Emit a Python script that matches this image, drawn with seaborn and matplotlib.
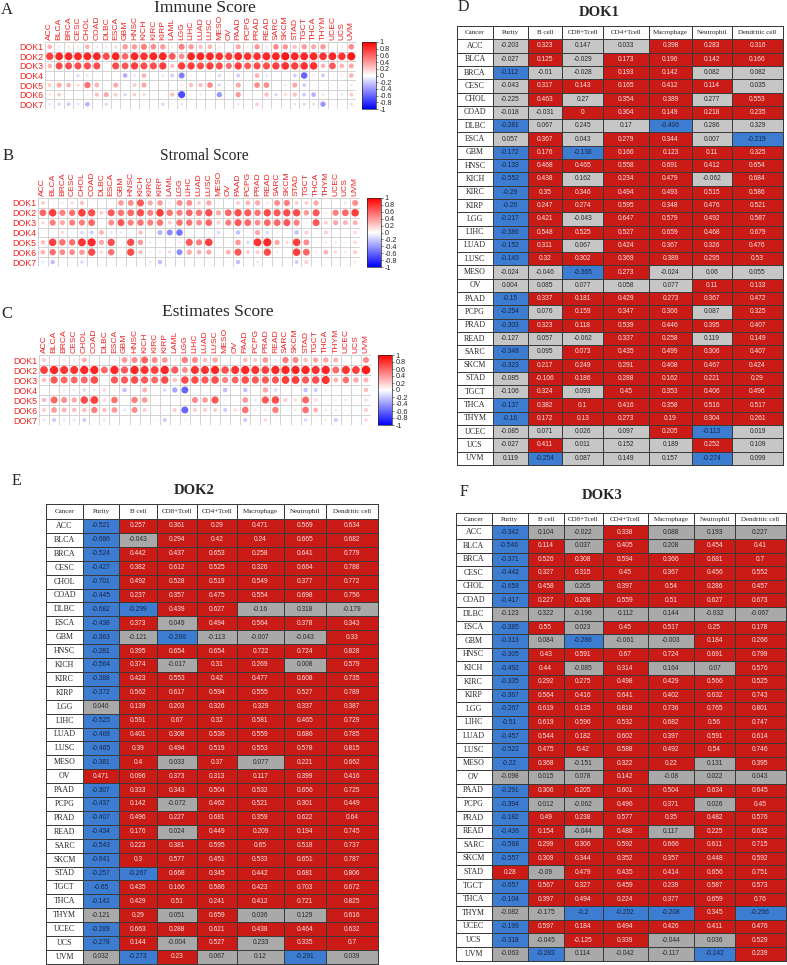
import numpy as np
import pandas as pd
import matplotlib
matplotlib.use('Agg')
import matplotlib.pyplot as plt
from matplotlib.colors import LinearSegmentedColormap, ListedColormap, Normalize
import matplotlib.cm as cm
import seaborn as sns

sns.set_style('white')
plt.rcParams['font.family'] = ['Liberation Sans', 'DejaVu Sans']

# ---------------- data ----------------
CANCERS = ['ACC', 'BLCA', 'BRCA', 'CESC', 'CHOL', 'COAD', 'DLBC', 'ESCA', 'GBM', 'HNSC',
           'KICH', 'KIRC', 'KIRP', 'LAML', 'LGG', 'LIHC', 'LUAD', 'LUSC', 'MESO', 'OV',
           'PAAD', 'PCPG', 'PRAD', 'READ', 'SARC', 'SKCM', 'STAD', 'TGCT', 'THCA', 'THYM',
           'UCEC', 'UCS', 'UVM']
GENES = ['DOK1', 'DOK2', 'DOK3', 'DOK4', 'DOK5', 'DOK6', 'DOK7']

IMMUNE = [
    [0.3, 0.1, 0.1, 0.1, 0.3, 0.1, 0.1, 0.15, 0.4, 0.4, 0.5, 0.45, 0.4, 0.1, 0.5, 0.4, 0.25, 0.3, 0.1, 0.05,
     0.35, 0.1, 0.4, 0.1, 0.45, 0.4, 0.25, 0.4, 0.35, 0.4, 0.05, 0.1, 0.45],
    [0.75, 0.85, 0.85, 0.85, 0.85, 0.85, 0.7, 0.85, 0.6, 0.85, 0.8, 0.85, 0.85, 0.65, 0.45, 0.85, 0.85, 0.85, 0.8, 0.75,
     0.85, 0.8, 0.8, 0.85, 0.85, 0.9, 0.85, 0.85, 0.85, 0.8, 0.85, 0.8, 0.9],
    [0.3, 0.7, 0.7, 0.7, 0.7, 0.7, 0.02, 0.7, 0.65, 0.75, 0.7, 0.7, 0.75, 0.25, 0.75, 0.75, 0.7, 0.75, 0.7, 0.55,
     0.75, 0.65, 0.7, 0.7, 0.75, 0.8, 0.75, 0.8, 0.8, 0.3, 0.65, 0.3, 0.35],
    [0.02, 0.02, 0.05, -0.15, -0.1, 0.05, 0.02, 0.02, -0.3, -0.1, 0.3, 0.02, -0.1, -0.2, -0.5, -0.05, 0.02, 0.02, -0.15, 0.02,
     -0.2, 0.05, 0.3, -0.1, 0.02, -0.05, -0.2, -0.6, 0.1, -0.2, 0.05, 0.1, 0.3],
    [0.2, 0.35, 0.3, 0.15, 0.55, 0.3, 0.02, 0.35, 0.02, 0.2, 0.35, 0.02, 0.02, 0.02, 0.1, 0.25, 0.25, 0.45, -0.15, 0.05,
     0.35, 0.05, 0.45, 0.45, 0.02, 0.1, 0.35, -0.2, 0.05, 0.05, 0.05, 0.05, 0.1],
    [0.1, 0.2, 0.05, 0.02, 0.05, 0.25, 0.35, 0.2, -0.15, 0.2, 0.15, 0.02, 0.02, 0.25, -0.7, 0.02, 0.1, 0.05, -0.4, 0.02,
     0.4, 0.02, 0.02, 0.25, -0.15, 0.15, 0.25, -0.2, -0.3, -0.1, 0.02, -0.1, 0.2],
    [-0.1, -0.15, -0.2, -0.1, -0.3, 0.05, -0.15, 0.02, 0.02, 0.02, 0.02, 0.02, -0.15, 0.05, -0.1, 0.02, 0.02, 0.02, 0.05, 0.02,
     -0.1, 0.05, 0.2, 0.05, 0.05, 0.05, -0.1, -0.15, 0.15, -0.4, 0.05, 0.05, 0.15],
]

STROMAL = [
    [0.2, 0.05, 0.1, 0.15, 0.25, 0.05, 0.05, 0.05, 0.4, 0.45, 0.65, 0.35, 0.4, 0.1, 0.45, 0.45, 0.2, 0.35, -0.05, 0.02,
     0.2, 0.3, 0.35, 0.1, 0.45, 0.5, 0.2, 0.2, 0.35, 0.05, 0.02, -0.1, 0.45],
    [0.6, 0.75, 0.5, 0.55, 0.75, 0.7, 0.2, 0.65, 0.55, 0.6, 0.7, 0.5, 0.75, 0.55, 0.5, 0.6, 0.55, 0.7, 0.35, 0.6,
     0.7, 0.65, 0.55, 0.7, 0.65, 0.7, 0.7, 0.4, 0.65, 0.1, 0.5, 0.6, 0.75],
    [0.15, 0.5, 0.35, 0.5, 0.5, 0.6, 0.02, 0.45, 0.65, 0.5, 0.55, 0.5, 0.55, 0.2, 0.55, 0.55, 0.45, 0.6, 0.2, 0.5,
     0.65, 0.6, 0.45, 0.6, 0.6, 0.65, 0.5, -0.05, 0.65, 0.2, 0.35, 0.3, 0.3],
    [0.02, 0.02, 0.15, -0.05, -0.15, -0.2, 0.3, -0.1, -0.1, 0.02, 0.25, -0.05, -0.3, -0.45, -0.55, 0.02, 0.02, 0.05, -0.15, 0.02,
     -0.25, 0.02, 0.35, -0.15, 0.05, 0.05, -0.25, 0.2, 0.05, 0.2, 0.02, 0.02, 0.15],
    [0.25, 0.75, 0.55, 0.55, 0.8, 0.85, 0.35, 0.7, 0.02, 0.7, 0.4, 0.1, 0.02, 0.02, 0.1, 0.65, 0.5, 0.75, 0.05, 0.02,
     0.4, -0.15, 0.8, 0.85, 0.35, 0.15, 0.75, 0.45, 0.05, 0.1, 0.1, 0.05, 0.15],
    [0.3, 0.55, 0.45, 0.45, 0.4, 0.7, 0.15, 0.55, 0.02, 0.7, 0.25, 0.1, 0.1, 0.15, -0.45, 0.35, 0.3, 0.35, 0.02, 0.3,
     0.65, 0.2, 0.2, 0.7, 0.1, 0.02, 0.75, 0.6, 0.1, 0.3, 0.15, 0.1, 0.2],
    [-0.1, -0.25, -0.05, -0.05, -0.15, 0.05, 0.02, 0.05, 0.02, 0.05, 0.05, -0.1, -0.25, 0.05, 0.05, 0.02, 0.05, 0.05, 0.02, 0.02,
     -0.25, 0.05, 0.1, 0.05, 0.02, 0.05, -0.2, 0.2, 0.02, 0.02, 0.02, 0.02, 0.1],
]

ESTIMATE = [
    [0.2, 0.05, 0.1, 0.1, 0.3, 0.05, 0.05, 0.1, 0.4, 0.45, 0.6, 0.45, 0.4, 0.1, 0.5, 0.45, 0.25, 0.35, 0.02, 0.02,
     0.25, 0.2, 0.4, 0.1, 0.5, 0.45, 0.25, 0.35, 0.35, 0.3, 0.02, 0.02, 0.45],
    [0.75, 0.85, 0.8, 0.8, 0.85, 0.85, 0.6, 0.85, 0.65, 0.85, 0.8, 0.75, 0.85, 0.65, 0.45, 0.8, 0.8, 0.85, 0.7, 0.8,
     0.85, 0.8, 0.75, 0.85, 0.85, 0.85, 0.85, 0.8, 0.85, 0.6, 0.8, 0.75, 0.9],
    [0.25, 0.65, 0.6, 0.6, 0.6, 0.7, 0.02, 0.65, 0.65, 0.7, 0.65, 0.6, 0.7, 0.25, 0.7, 0.7, 0.65, 0.7, 0.5, 0.6,
     0.7, 0.65, 0.65, 0.65, 0.75, 0.75, 0.65, 0.7, 0.8, 0.3, 0.55, 0.35, 0.3],
    [0.02, 0.02, 0.1, -0.1, -0.15, -0.1, 0.15, -0.05, -0.25, -0.05, 0.3, -0.05, -0.15, -0.35, -0.6, -0.02, 0.02, 0.05, -0.25, 0.02,
     -0.25, 0.05, 0.35, -0.15, 0.05, 0.02, -0.25, -0.2, 0.1, 0.05, 0.02, 0.05, 0.25],
    [0.25, 0.6, 0.45, 0.35, 0.7, 0.75, 0.15, 0.55, 0.02, 0.5, 0.4, 0.05, 0.02, 0.02, 0.1, 0.45, 0.4, 0.65, -0.05, 0.02,
     0.4, -0.1, 0.65, 0.7, 0.2, 0.15, 0.6, 0.15, 0.05, 0.1, 0.1, 0.05, 0.15],
    [0.2, 0.4, 0.3, 0.25, 0.25, 0.5, 0.25, 0.4, -0.1, 0.45, 0.2, 0.05, 0.05, 0.2, -0.6, 0.2, 0.2, 0.2, -0.2, 0.15,
     0.55, 0.1, 0.1, 0.5, 0.02, 0.1, 0.55, 0.3, -0.1, 0.1, 0.05, 0.02, 0.2],
    [-0.1, -0.2, -0.1, -0.1, -0.2, 0.05, -0.1, 0.02, 0.02, 0.02, 0.02, -0.05, -0.2, 0.05, -0.05, 0.02, 0.02, 0.02, 0.02, 0.02,
     -0.2, 0.05, 0.15, 0.05, 0.02, 0.05, -0.15, 0.05, 0.1, -0.2, 0.02, 0.02, 0.15],
]

TABLE_CANCERS = [c for c in CANCERS if c != 'LAML']
TABLE_HEADER = ['Cancer', 'Purity', 'B cell', 'CD8+Tcell', 'CD4+Tcell', 'Macrophage', 'Neutrophil', 'Dendritic cell']

DOK1_R = [
    [-0.203, 0.323, 0.147, 0.033, 0.398, 0.283, 0.316],
    [-0.027, 0.125, -0.029, 0.173, 0.196, 0.142, 0.166],
    [-0.112, -0.01, -0.028, 0.193, 0.142, 0.082, 0.082],
    [-0.043, 0.317, 0.143, 0.165, 0.412, 0.114, 0.035],
    [-0.225, 0.463, 0.27, 0.354, 0.389, 0.277, 0.553],
    [-0.018, -0.031, 0, 0.304, 0.149, 0.218, 0.235],
    [-0.281, 0.067, 0.245, 0.17, -0.406, 0.286, 0.329],
    [0.057, 0.367, 0.043, 0.279, 0.344, 0.007, -0.219],
    [-0.172, 0.176, -0.138, 0.166, 0.123, 0.11, 0.325],
    [-0.133, 0.468, 0.465, 0.558, 0.691, 0.412, 0.654],
    [-0.552, 0.438, 0.162, 0.234, 0.479, -0.062, 0.684],
    [-0.29, 0.35, 0.346, 0.494, 0.493, 0.515, 0.586],
    [-0.26, 0.247, 0.274, 0.595, 0.348, 0.476, 0.521],
    [-0.217, 0.421, -0.043, 0.647, 0.579, 0.492, 0.587],
    [-0.386, 0.548, 0.525, 0.527, 0.659, 0.468, 0.679],
    [-0.152, 0.311, 0.067, 0.424, 0.367, 0.326, 0.476],
    [-0.149, 0.32, 0.302, 0.369, 0.389, 0.295, 0.53],
    [-0.024, -0.046, -0.365, 0.273, -0.024, 0.06, 0.055],
    [0.004, 0.085, 0.077, 0.058, 0.077, 0.11, 0.133],
    [-0.15, 0.337, 0.181, 0.429, 0.273, 0.367, 0.472],
    [-0.254, 0.076, 0.159, 0.347, 0.366, 0.087, 0.325],
    [-0.303, 0.323, 0.118, 0.539, 0.446, 0.395, 0.407],
    [-0.127, 0.057, -0.062, 0.337, 0.258, 0.119, 0.149],
    [-0.348, 0.095, 0.073, 0.435, 0.499, 0.306, 0.407],
    [-0.323, 0.217, 0.249, 0.291, 0.408, 0.467, 0.424],
    [-0.085, -0.106, 0.186, 0.288, 0.162, 0.221, 0.29],
    [-0.106, 0.324, 0.093, 0.45, 0.353, 0.406, 0.496],
    [-0.137, 0.382, 0.1, 0.416, 0.358, 0.516, 0.517],
    [-0.16, 0.172, 0.13, 0.273, 0.19, 0.304, 0.261],
    [-0.085, 0.071, 0.026, 0.097, 0.205, -0.113, 0.019],
    [-0.027, 0.411, 0.011, 0.152, 0.189, 0.252, 0.109],
    [0.119, -0.254, 0.087, 0.149, 0.157, -0.274, 0.099],
]
DOK1_SIG = ['grggrrr', 'grgrrrr', 'bggrrgg', 'grrrrrg', 'grgrrgr', 'ggrrrrr', 'bgggbgg', 'grgrrgb',
            'brbrrrr', 'brrrrrr', 'brgrrgr', 'brrrrrr', 'brrrrrr', 'brgrrrr', 'brrrrrr', 'brgrrrr',
            'brrrrrr', 'ggbrggg', 'gggggrr', 'brrrrrr', 'bgrrrgr', 'brrrrrr', 'gggrrgr', 'bgrrrrr',
            'brrrrrr', 'grrrrrr', 'grgrrrr', 'brrrrrr', 'brrrrrr', 'ggggrbg', 'grgggrg', 'gbgggbg']

DOK2_R = [
    [-0.521, 0.257, 0.361, 0.29, 0.471, 0.569, 0.634],
    [-0.686, -0.043, 0.294, 0.42, 0.24, 0.665, 0.682],
    [-0.524, 0.442, 0.437, 0.653, 0.258, 0.641, 0.779],
    [-0.427, 0.382, 0.612, 0.525, 0.326, 0.664, 0.788],
    [-0.701, 0.492, 0.528, 0.519, 0.549, 0.377, 0.772],
    [-0.445, 0.237, 0.357, 0.475, 0.554, 0.698, 0.756],
    [-0.682, -0.299, 0.439, 0.627, -0.16, 0.318, -0.179],
    [-0.438, 0.373, 0.049, 0.494, 0.564, 0.378, 0.343],
    [-0.363, -0.121, -0.266, -0.113, -0.007, -0.043, 0.33],
    [-0.281, 0.395, 0.654, 0.654, 0.722, 0.724, 0.828],
    [-0.564, 0.374, -0.017, 0.31, 0.269, 0.008, 0.579],
    [-0.388, 0.423, 0.553, 0.42, 0.477, 0.608, 0.735],
    [-0.372, 0.562, 0.617, 0.594, 0.555, 0.527, 0.789],
    [0.046, 0.139, 0.203, 0.326, 0.329, 0.337, 0.387],
    [-0.525, 0.591, 0.67, 0.32, 0.581, 0.465, 0.729],
    [-0.468, 0.401, 0.308, 0.536, 0.559, 0.686, 0.785],
    [-0.465, 0.39, 0.494, 0.519, 0.553, 0.578, 0.815],
    [-0.381, 0.4, 0.033, 0.37, 0.077, 0.221, 0.662],
    [0.471, 0.096, 0.373, 0.313, 0.117, 0.399, 0.416],
    [-0.307, 0.333, 0.343, 0.504, 0.532, 0.656, 0.725],
    [-0.437, 0.142, -0.072, 0.462, 0.521, 0.301, 0.449],
    [-0.407, 0.496, 0.227, 0.681, 0.359, 0.622, 0.64],
    [-0.434, 0.176, 0.024, 0.449, 0.209, 0.194, 0.745],
    [-0.543, 0.223, 0.381, 0.595, 0.65, 0.518, 0.737],
    [-0.641, 0.3, 0.577, 0.451, 0.533, 0.651, 0.787],
    [-0.257, -0.267, 0.668, 0.345, 0.442, 0.681, 0.806],
    [-0.65, 0.435, 0.166, 0.586, 0.423, 0.703, 0.672],
    [-0.142, 0.429, 0.51, 0.241, 0.412, 0.721, 0.825],
    [-0.121, 0.29, 0.051, 0.659, 0.036, 0.129, 0.616],
    [-0.289, 0.663, 0.288, 0.621, 0.438, 0.464, 0.632],
    [-0.278, 0.144, -0.004, 0.527, 0.233, 0.335, 0.7],
    [0.032, -0.273, 0.23, 0.067, 0.12, -0.291, 0.039],
]
DOK2_SIG = ['brrrrrr', 'bgrrrrr', 'brrrrrr', 'brrrrrr', 'brrrrrr', 'brrrrrr', 'bbrrggg', 'brgrrrr',
            'bgbgggr', 'brrrrrr', 'brgrrgr', 'brrrrrr', 'brrrrrr', 'grrrrrr', 'brrrrrr', 'brrrrrr',
            'brrrrrr', 'brgrgrr', 'rrrrrrr', 'brrrrrr', 'brgrrrr', 'brrrrrr', 'brgrrrr', 'brrrrrr',
            'brrrrrr', 'bbrrrrr', 'brrrrrr', 'brrrrrr', 'grgrggr', 'brrrrrr', 'brgrgrr', 'gbrggbg']

DOK3_R = [
    [-0.342, 0.104, -0.022, 0.338, 0.088, 0.193, 0.227],
    [-0.546, 0.114, 0.037, 0.405, 0.208, 0.454, 0.41],
    [-0.371, 0.526, 0.308, 0.594, 0.366, 0.681, 0.7],
    [-0.442, 0.327, 0.315, 0.45, 0.367, 0.456, 0.552],
    [-0.658, 0.458, 0.205, 0.397, 0.54, 0.286, 0.457],
    [-0.417, 0.227, 0.208, 0.559, 0.51, 0.627, 0.673],
    [-0.123, 0.322, -0.196, 0.112, 0.144, -0.032, -0.067],
    [-0.385, 0.55, 0.023, 0.45, 0.517, 0.25, 0.178],
    [-0.313, 0.084, -0.286, -0.061, -0.003, 0.184, 0.266],
    [-0.305, 0.43, 0.591, 0.67, 0.724, 0.691, 0.799],
    [-0.492, 0.44, -0.085, 0.314, 0.164, 0.07, 0.576],
    [-0.335, 0.292, 0.275, 0.498, 0.429, 0.566, 0.525],
    [-0.367, 0.564, 0.416, 0.641, 0.402, 0.632, 0.743],
    [-0.267, 0.619, 0.135, 0.818, 0.736, 0.765, 0.801],
    [-0.51, 0.619, 0.596, 0.532, 0.682, 0.56, 0.747],
    [-0.457, 0.544, 0.182, 0.602, 0.397, 0.591, 0.614],
    [-0.522, 0.475, 0.42, 0.588, 0.492, 0.54, 0.746],
    [-0.22, 0.368, -0.151, 0.322, 0.22, 0.131, 0.395],
    [-0.098, 0.015, 0.078, 0.142, -0.08, 0.022, 0.043],
    [-0.291, 0.306, 0.205, 0.601, 0.504, 0.634, 0.645],
    [-0.394, 0.012, -0.062, 0.496, 0.371, 0.026, 0.45],
    [-0.182, 0.49, 0.238, 0.577, 0.35, 0.482, 0.576],
    [-0.436, 0.154, -0.044, 0.488, 0.117, 0.225, 0.632],
    [-0.568, 0.299, 0.306, 0.592, 0.666, 0.611, 0.715],
    [-0.557, 0.309, 0.344, 0.352, 0.357, 0.448, 0.592],
    [0.28, -0.09, 0.479, 0.435, 0.414, 0.656, 0.751],
    [-0.657, 0.567, 0.327, 0.459, 0.239, 0.587, 0.573],
    [-0.104, 0.397, 0.494, 0.224, 0.377, 0.659, 0.76],
    [-0.082, -0.175, -0.2, -0.252, -0.208, 0.345, -0.266],
    [-0.199, 0.597, 0.184, 0.494, 0.426, 0.411, 0.476],
    [-0.318, -0.045, -0.125, 0.339, -0.044, 0.036, 0.529],
    [-0.063, -0.283, 0.114, -0.042, -0.117, -0.242, 0.239],
]
DOK3_SIG = ['bggrggg', 'brgrgrr', 'brrrrrr', 'brrrrrr', 'brgrrrr', 'brrrrrr', 'ggggggg', 'brgrrrr',
            'bgbggrr', 'brrrrrr', 'brgrggr', 'brrrrrr', 'brrrrrr', 'brrrrrr', 'brrrrrr', 'brrrrrr',
            'brrrrrr', 'brgrrgr', 'gggrggg', 'brrrrrr', 'bggrrgr', 'brrrrrr', 'brgrgrr', 'brrrrrr',
            'brrrrrr', 'rgrrrrr', 'brrrrrr', 'brrrrrr', 'ggbbbrb', 'brrrrrr', 'bgrrggr', 'gbgggbr']

CBAR_TICKS = [1, 0.8, 0.6, 0.4, 0.2, 0, -0.2, -0.4, -0.6, -0.8, -1]

# ---------------- style ----------------
CMAP = LinearSegmentedColormap.from_list('bwr_pure', ['#0000ff', '#ffffff', '#ff0000'])
LABEL_RED = '#ee2222'
GRID_C = '#cccccc'
RED = '#cb1b16'
BLUE = '#3c7dd1'
SERIF = ['Liberation Serif', 'DejaVu Serif']

W, H = 787, 965
fig = plt.figure(figsize=(W / 100, H / 100), dpi=100)


def px_axes(x0, y0, x1, y1):
    return fig.add_axes([x0 / W, 1 - y1 / H, (x1 - x0) / W, (y1 - y0) / H])


def corr_panel(scores, title, letter, grid, cbar, title_xy, title_size, letter_xy):
    x0, y0, x1, y1 = grid
    ax = px_axes(*grid)
    df = pd.DataFrame(scores, index=GENES, columns=CANCERS)
    df = df.reset_index().melt(id_vars='index', var_name='cancer', value_name='r')
    df = df.rename(columns={'index': 'gene'})
    df['xi'] = pd.Categorical(df['cancer'], categories=CANCERS).codes
    df['yi'] = pd.Categorical(df['gene'], categories=GENES).codes
    df['absr'] = df['r'].abs()
    cell = min((x1 - x0) / len(CANCERS), (y1 - y0) / len(GENES))
    smax = (0.9 * cell * 0.72) ** 2
    sns.scatterplot(data=df, x='xi', y='yi', hue='r', palette=CMAP, hue_norm=(-1, 1),
                    size='absr', sizes=(0, smax), size_norm=(0, 1), legend=False,
                    linewidth=0, ax=ax)
    for i in range(len(CANCERS) + 1):
        ax.axvline(i - 0.5, color=GRID_C, lw=0.6, zorder=0)
    for j in range(len(GENES) + 1):
        ax.axhline(j - 0.5, color=GRID_C, lw=0.6, zorder=0)
    ax.set_xlim(-0.5, len(CANCERS) - 0.5)
    ax.set_ylim(len(GENES) - 0.5, -0.5)
    for s in ax.spines.values():
        s.set_visible(False)
    ax.xaxis.tick_top()
    ax.set_xticks(range(len(CANCERS)))
    ax.set_xticklabels(CANCERS, rotation=90, color=LABEL_RED, fontsize=6.1)
    ax.set_yticks(range(len(GENES)))
    ax.set_yticklabels(GENES, color=LABEL_RED, fontsize=6.4)
    ax.tick_params(length=0, pad=1.5)
    ax.set_xlabel('')
    ax.set_ylabel('')

    cax = px_axes(*cbar)
    cb = fig.colorbar(cm.ScalarMappable(Normalize(-1, 1), CMAP), cax=cax)
    cb.set_ticks(CBAR_TICKS)
    cb.set_ticklabels([f'{t:g}' for t in CBAR_TICKS])
    cb.ax.tick_params(labelsize=5.2, length=1.5, width=0.4, pad=1)
    cb.outline.set_linewidth(0.5)

    fig.text(title_xy[0] / W, 1 - title_xy[1] / H, title, ha='center', va='center',
             fontsize=title_size, family=SERIF)
    fig.text(letter_xy[0] / W, 1 - letter_xy[1] / H, letter, ha='center', va='center',
             fontsize=12, family=SERIF)


def table_panel(vals, sig, title, letter, edges_x, top, head_h, row_h, gray,
                title_xy, letter_xy):
    n = len(TABLE_CANCERS)
    bottom = top + head_h + n * row_h
    ax = px_axes(edges_x[0] - 1, top - 1, edges_x[-1] + 1, bottom + 1)
    xe = np.array(edges_x, dtype=float) - edges_x[0]
    ye = np.concatenate([[0.0], head_h + row_h * np.arange(n + 1)])
    code_of = {'b': 0, 'g': 1, 'r': 2}
    codes = np.full((n + 1, len(TABLE_HEADER)), 3)
    for i, s in enumerate(sig):
        for j, c in enumerate(s):
            codes[i + 1, j + 1] = code_of[c]
    ax.pcolormesh(xe, ye, codes, cmap=ListedColormap([BLUE, gray, RED, 'white']),
                  vmin=-0.5, vmax=3.5, edgecolors='#3a3a3a', linewidth=0.5)
    ax.set_xlim(-1, xe[-1] + 1)
    ax.set_ylim(ye[-1] + 1, -1)
    ax.axis('off')

    xc = (xe[:-1] + xe[1:]) / 2
    yc = (ye[:-1] + ye[1:]) / 2
    for j, h in enumerate(TABLE_HEADER):
        ax.text(xc[j], yc[0], h, ha='center', va='center', fontsize=5.0, family=SERIF,
                color='#222222')
    txt_col = {0: '#17264d', 1: '#2a2a2a', 2: '#fbe6e6'}
    for i, name in enumerate(TABLE_CANCERS):
        ax.text(xc[0], yc[i + 1], name, ha='center', va='center', fontsize=5.7,
                family=SERIF, color='#222222')
        for j, v in enumerate(vals[i]):
            k = codes[i + 1, j + 1]
            ax.text(xc[j + 1], yc[i + 1], f'{v:g}', ha='center', va='center',
                    fontsize=4.8, color=txt_col[k])

    fig.text(title_xy[0] / W, 1 - title_xy[1] / H, title, ha='center', va='center',
             fontsize=10.5, fontweight='bold', family=SERIF)
    fig.text(letter_xy[0] / W, 1 - letter_xy[1] / H, letter, ha='center', va='center',
             fontsize=11.5, family=SERIF)


corr_panel(IMMUNE, 'Immune Score', 'A', (45, 42, 356, 109), (362, 42, 376, 109),
           (205, 8), 12.5, (7, 10))
corr_panel(STROMAL, 'Stromal Score', 'B', (38, 198, 360, 267), (367, 198, 381, 267),
           (204, 156), 11.2, (8, 156))
corr_panel(ESTIMATE, 'Estimates Score', 'C', (39, 355, 371, 425), (378, 355, 392, 425),
           (218, 312), 12.5, (7, 314))

table_panel(DOK1_R, DOK1_SIG, 'DOK1', 'D',
            [457.3, 492.7, 527.7, 562.3, 603.3, 649.3, 691.7, 731.7, 783.3],
            26, 13.3, 13.3, '#c6c6c6', (599, 12.5), (463, 7))
table_panel(DOK2_R, DOK2_SIG, 'DOK2', 'E',
            [46, 83.3, 119.3, 156.7, 196.7, 236.7, 284.3, 325.7, 378.3],
            504, 15, 13.9, '#a9a9a9', (194, 491), (16, 481))
table_panel(DOK3_R, DOK3_SIG, 'DOK3', 'F',
            [455.7, 491.7, 527.7, 563.7, 602.7, 647.7, 694.3, 735, 785.5],
            513, 12.3, 13.6, '#a9a9a9', (602, 495), (464, 492))

fig.savefig('out.png', dpi=100)
